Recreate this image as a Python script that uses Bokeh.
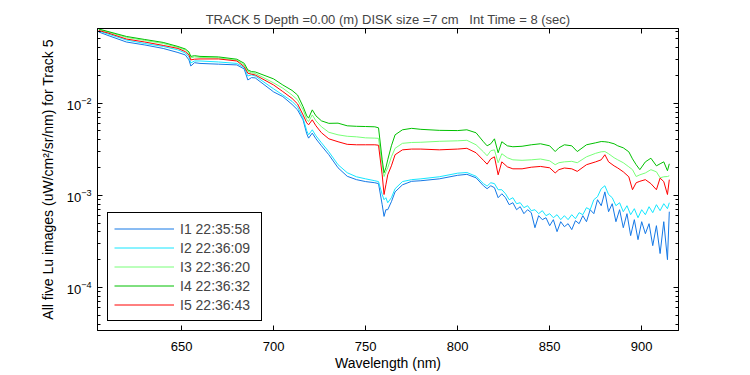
from bokeh.plotting import figure
from bokeh.models import (Range1d, LogAxis, LinearAxis, FixedTicker, LogTicker,
                          Legend, LegendItem, CustomJSTickFormatter)
from bokeh.embed import file_html
from bokeh.resources import INLINE

# ---------------- data ----------------
# common wavelength grid for I3, I4, I5
wavelength = [605, 610, 620, 630, 640, 648, 652, 654, 655, 657, 660, 670, 680, 684, 686,
              688, 690, 700, 705, 710, 713, 716, 718, 719, 721, 723, 726, 730, 735, 740,
              745, 750, 755, 757, 759, 760, 761, 762, 764, 766, 770, 775, 780, 790, 800,
              805, 810, 814, 816, 818, 820, 822, 824, 827, 830, 835, 840, 845, 850, 853,
              855, 858, 862, 865, 870, 875, 878, 880, 882, 885, 887, 890, 893, 895, 897,
              899, 902, 905, 908, 910, 912, 914, 915]

# finer grid (noisy tail) for I1, I2
wavelength_12 = [605, 610, 620, 630, 640, 648, 652, 654, 655, 657, 660, 670, 680, 684, 686,
                 688, 690, 700, 705, 710, 713, 716, 718, 719, 721, 723, 726, 730, 735, 740,
                 745, 750, 755, 757, 759, 760, 761, 762, 764, 766, 770, 775, 780, 790, 800,
                 805, 810, 814, 816, 818, 820, 822, 824,
                 826, 828, 830, 832, 834, 836, 838, 840, 842, 844, 846, 848, 850, 852, 854,
                 856, 858, 860, 862, 864, 866, 868, 870, 872, 874, 876, 878, 880, 882, 884,
                 886, 888, 890, 892, 894, 896, 898, 900, 902, 904, 906, 908, 910, 912, 914, 915]

i1 = [0.0595, 0.0545, 0.0463, 0.0430, 0.0394, 0.0356, 0.0335, 0.0296, 0.0254, 0.0276,
      0.0271, 0.0266, 0.0261, 0.0236, 0.0179, 0.0190, 0.01886, 0.01329, 0.01182, 0.00973,
      0.00848, 0.00661, 0.00466, 0.00418, 0.00474, 0.00411, 0.00345, 0.00276, 0.00199, 0.00161,
      0.00148, 0.00141, 0.00137, 0.00134, 0.000791, 0.000590, 0.000698, 0.000698, 0.000852, 0.00109,
      0.00130, 0.00142, 0.00144, 0.00151, 0.00165, 0.00169, 0.00155, 0.00127, 0.00118, 0.00127,
      0.00121, 0.000942, 0.00104,
      0.000942, 0.000791, 0.000831, 0.000698, 0.000752, 0.000632, 0.000698, 0.000648, 0.000445, 0.000601,
      0.000544, 0.000571, 0.000468, 0.000544, 0.000403, 0.000517, 0.000456, 0.000492, 0.000424, 0.000530,
      0.000492, 0.000601, 0.000517, 0.000698, 0.000632, 0.000896, 0.000771, 0.00109, 0.000664, 0.000811,
      0.000517, 0.000698, 0.000445, 0.000632, 0.000365, 0.000544, 0.000330, 0.000517, 0.000383, 0.000492,
      0.000284, 0.000468, 0.000233, 0.000517, 0.000200, 0.000664]

i2 = [0.0610, 0.0566, 0.0487, 0.0446, 0.0414, 0.0380, 0.0352, 0.0319, 0.0274, 0.0288,
      0.0288, 0.0281, 0.0271, 0.0245, 0.0198, 0.0203, 0.0198, 0.01433, 0.0123, 0.01049,
      0.00914, 0.00689, 0.00502, 0.00454, 0.00515, 0.00443, 0.00372, 0.00297, 0.00215, 0.00176,
      0.00159, 0.00151, 0.00144, 0.00141, 0.00102, 0.000896, 0.000942, 0.000831, 0.000942, 0.00118,
      0.00141, 0.00148, 0.00151, 0.00159, 0.00174, 0.00177, 0.00161, 0.00134, 0.00126, 0.00137,
      0.00134, 0.00115, 0.00115,
      0.00104, 0.000896, 0.000942, 0.000811, 0.000831, 0.000734, 0.000771, 0.000681, 0.000698, 0.000632,
      0.000681, 0.000601, 0.000632, 0.000571, 0.000616, 0.000544, 0.000601, 0.000544, 0.000616, 0.000557,
      0.000648, 0.000616, 0.000734, 0.000698, 0.000896, 0.000966, 0.00118, 0.00127, 0.00102, 0.000942,
      0.000771, 0.000831, 0.000664, 0.000771, 0.000616, 0.000716, 0.000571, 0.000698, 0.000616, 0.000752,
      0.000648, 0.000791, 0.000681, 0.000811, 0.000716, 0.000831]

i3 = [0.0633, 0.0595, 0.0519, 0.0481, 0.0446, 0.0404, 0.0380, 0.0348, 0.0311, 0.0319,
      0.0315, 0.0311, 0.0293, 0.0261, 0.0222, 0.0214, 0.0211, 0.01665, 0.01458, 0.0123,
      0.01089, 0.00848, 0.00669, 0.00633, 0.00748, 0.00644, 0.00555, 0.00484, 0.00454, 0.00438,
      0.00432, 0.00421, 0.00418, 0.00416, 0.00215, 0.00160, 0.00180, 0.00199, 0.00262, 0.00324,
      0.00367, 0.00375, 0.00377, 0.00386, 0.00391, 0.00396, 0.00354, 0.00297, 0.00269, 0.00305,
      0.00312, 0.00226, 0.00283, 0.00256, 0.00243, 0.00240, 0.00243, 0.00248, 0.00237, 0.00215,
      0.00226, 0.00231, 0.00234, 0.00226, 0.00262, 0.00286, 0.00297, 0.00299, 0.00283, 0.00256,
      0.00243, 0.00226, 0.00204, 0.00190, 0.00160, 0.00167, 0.00175, 0.00190, 0.00180, 0.00155,
      0.00159, 0.00160, 0.00163]

i4 = [0.0641, 0.0602, 0.0532, 0.0493, 0.0458, 0.0414, 0.0389, 0.0361, 0.0323, 0.0329,
      0.0323, 0.0319, 0.0301, 0.0272, 0.0230, 0.0221, 0.0219, 0.0184, 0.0158, 0.0138,
      0.0123, 0.00921, 0.00730, 0.00689, 0.00848, 0.00730, 0.00644, 0.00605, 0.00608, 0.00569,
      0.00562, 0.00559, 0.00555, 0.00541, 0.00243, 0.00176, 0.00199, 0.00243, 0.00345, 0.00454,
      0.00515, 0.00534, 0.00521, 0.00508, 0.00505, 0.00515, 0.00478, 0.00382, 0.00345, 0.00363,
      0.00411, 0.00290, 0.00382, 0.00345, 0.00337, 0.00341, 0.00354, 0.00363, 0.00345, 0.00299,
      0.00328, 0.00354, 0.00345, 0.00299, 0.00354, 0.00372, 0.00384, 0.00382, 0.00377, 0.00363,
      0.00345, 0.00328, 0.00297, 0.00249, 0.00215, 0.00190, 0.00231, 0.00253, 0.00209, 0.00220,
      0.00231, 0.00185, 0.00220]

i5 = [0.0617, 0.0580, 0.0499, 0.0463, 0.0425, 0.0394, 0.0364, 0.0335, 0.0296, 0.0301,
      0.0303, 0.0303, 0.0288, 0.0250, 0.0212, 0.0207, 0.0203, 0.0158, 0.0134, 0.0113,
      0.00985, 0.00748, 0.00613, 0.00583, 0.00661, 0.00569, 0.00478, 0.00411, 0.00382, 0.00358,
      0.00354, 0.00354, 0.00354, 0.00350, 0.00167, 0.00102, 0.00130, 0.00167, 0.00209, 0.00276,
      0.00312, 0.00318, 0.00318, 0.00312, 0.00318, 0.00324, 0.00290, 0.00240, 0.00218, 0.00249,
      0.00262, 0.00167, 0.00231, 0.00204, 0.00194, 0.00194, 0.00202, 0.00206, 0.00199, 0.00175,
      0.00190, 0.00198, 0.00194, 0.00182, 0.00215, 0.00231, 0.00243, 0.00276, 0.00231, 0.00209,
      0.00198, 0.00180, 0.00159, 0.00115, 0.00137, 0.00142, 0.00148, 0.00134, 0.00115, 0.00154,
      0.00141, 0.00102, 0.00148]

series_x = [wavelength_12, wavelength_12, wavelength, wavelength, wavelength]
series = [i1, i2, i3, i4, i5]
labels = ["I1 22:35:58", "I2 22:36:09", "I3 22:36:20", "I4 22:36:32", "I5 22:36:43"]
colors = ["#1478E6", "#14E6FF", "#78FF78", "#00C000", "#FF0000"]

x_ticks = [650, 700, 750, 800, 850, 900]

title_text = "TRACK 5 Depth =0.00 (m) DISK size =7 cm\u00a0\u00a0 Int Time = 8 (sec)"
x_label = "Wavelength (nm)"
y_label = "All five Lu images (uW/cm\u00b2/sr/nm) for Track 5"

FONT = "Liberation Sans"

# ---------------- figure ----------------
p = figure(width=740, height=373, y_axis_type="log",
           x_range=Range1d(604.3, 920), y_range=Range1d(3.4e-5, 0.0649),
           output_backend="svg", toolbar_location=None,
           min_border_left=97, min_border_right=62, min_border_top=28, min_border_bottom=43,
           background_fill_color="white", border_fill_color="white")

p.grid.visible = False
p.outline_line_color = "black"
p.outline_line_width = 1

p.title.text = title_text
p.title.align = "center"
p.title.offset = 28
p.title.text_font = FONT
p.title.text_font_size = "13px"
p.title.text_font_style = "normal"
p.title.standoff = 4

renderers = []
for xs, ys, c in zip(series_x, series, colors):
    r = p.line(xs, ys, line_color=c, line_width=1)
    renderers.append(r)

xa = p.xaxis[0]
xa.ticker = FixedTicker(ticks=x_ticks)
xa.axis_label = x_label
ya = p.yaxis[0]
ya.ticker = LogTicker(num_minor_ticks=10, desired_num_ticks=4)
ya.axis_label = y_label

for ax in (xa, ya):
    ax.axis_line_color = "black"
    ax.major_tick_in = 5
    ax.major_tick_out = 0
    ax.minor_tick_in = 3
    ax.minor_tick_out = 0
    ax.major_tick_line_color = "black"
    ax.major_label_text_font = FONT
    ax.major_label_text_font_size = "13px"
    ax.major_label_text_color = "black"
    ax.axis_label_text_font = FONT
    ax.axis_label_text_font_size = "14px"
    ax.axis_label_text_font_style = "normal"
    ax.axis_label_text_color = "black"
xa.minor_tick_line_color = None
xa.major_label_standoff = 11
xa.axis_label_standoff = 1
ya.major_label_standoff = 6
ya.axis_label_standoff = 8

blank = CustomJSTickFormatter(code="return ''")
top = LinearAxis(ticker=FixedTicker(ticks=x_ticks), formatter=blank,
                 major_tick_in=5, major_tick_out=0, minor_tick_line_color=None,
                 major_label_standoff=0, axis_line_color="black")
right = LogAxis(ticker=LogTicker(num_minor_ticks=10, desired_num_ticks=4), formatter=blank,
                major_tick_in=5, major_tick_out=0, minor_tick_in=3, minor_tick_out=0,
                major_label_standoff=0, axis_line_color="black")
p.add_layout(top, "above")
p.add_layout(right, "right")

legend = Legend(items=[LegendItem(label=l, renderers=[r]) for l, r in zip(labels, renderers)],
                location=(10, 9), orientation="vertical",
                label_text_font=FONT, label_text_font_size="14px",
                glyph_width=60, glyph_height=19, label_height=19, label_width=75,
                label_standoff=6, spacing=0, padding=6, margin=0,
                border_line_color="black", border_line_width=1, border_line_alpha=1,
                background_fill_color="white", background_fill_alpha=1)
p.add_layout(legend)

open("out.html", "w").write(file_html(p, INLINE))
